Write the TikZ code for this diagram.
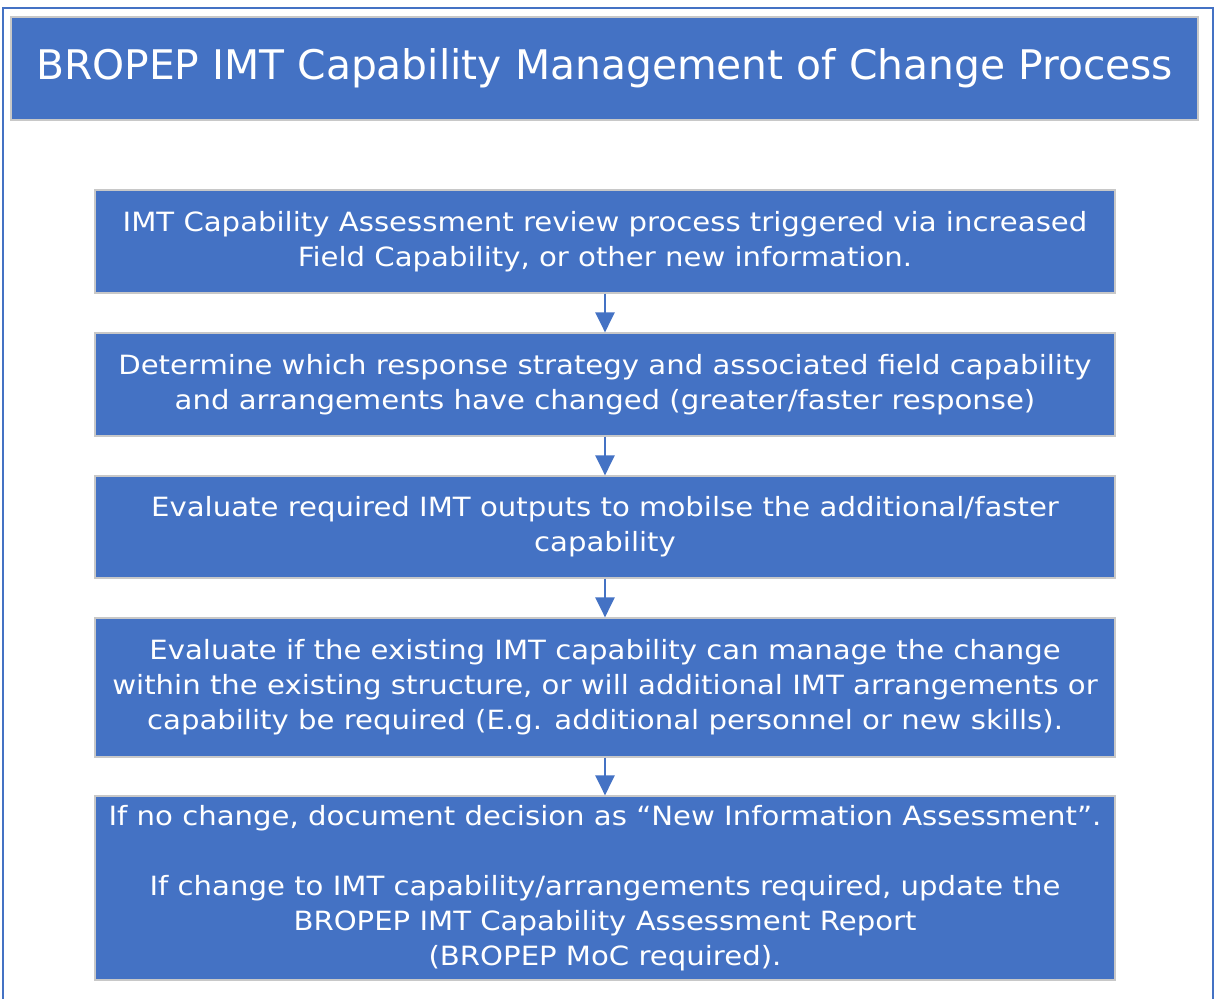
\documentclass[tikz,border=0pt]{standalone}
\usepackage{fontspec}
\setmainfont{DejaVu Sans}
\newfontfamily\bodyfont{DejaVu Sans}[FakeStretch=1.1]
\usetikzlibrary{arrows.meta}
\definecolor{imtblue}{HTML}{4472C4}
\definecolor{boxedge}{HTML}{C8C8C8}
\begin{document}
\begin{tikzpicture}[x=0.5pt, y=-0.5pt,
    stepbox/.style={fill=imtblue, draw=boxedge, line width=0.6pt, text=white,
        align=center, minimum width=510pt, inner sep=0pt,
        font=\bodyfont\fontsize{13.25}{17.5}\selectfont},
    flowarrow/.style={imtblue, line width=1.3pt, -{Triangle[width=9.5pt,length=10pt]}}]
    \useasboundingbox (0,0) rectangle (1215,999);

    % Outer frame (open at the bottom)
    \draw[imtblue, line width=0.8pt] (3,1010) -- (3,8) -- (1213,8) -- (1213,1010);

    % Title bar
    \node[fill=imtblue, draw=boxedge, line width=0.6pt, text=white, inner sep=0pt,
          minimum width=593.5pt, minimum height=51.5pt,
          font=\fontsize{20.4}{24}\selectfont] (title) at (604.5,68.5)
          {BROPEP IMT Capability Management of Change Process};

    % Process steps
    \node[stepbox, minimum height=51.5pt] (trigger) at (605,241.5)
        {IMT Capability Assessment review process triggered via increased\\
         Field Capability, or other new information.};
    \node[stepbox, minimum height=51.5pt] (strategy) at (605,384.5)
        {Determine which response strategy and associated field capability\\
         and arrangements have changed (greater/faster response)};
    \node[stepbox, minimum height=51pt] (outputs) at (605,527)
        {Evaluate required IMT outputs to mobilse the additional/faster\\
         capability};
    \node[stepbox, minimum height=69.5pt] (existing) at (605,687.5)
        {Evaluate if the existing IMT capability can manage the change\\
         within the existing structure, or will additional IMT arrangements or\\
         capability be required (E.g. additional personnel or new skills).};
    \node[stepbox, minimum height=92pt] (decision) at (605,888)
        {If no change, document decision as “New Information Assessment”.\\[\baselineskip]
         If change to IMT capability/arrangements required, update the\\
         BROPEP IMT Capability Assessment Report\\
         (BROPEP MoC required).};

    % Connectors
    \draw[flowarrow] (trigger) -- (strategy);
    \draw[flowarrow] (strategy) -- (outputs);
    \draw[flowarrow] (outputs) -- (existing);
    \draw[flowarrow] (existing) -- (decision);
\end{tikzpicture}
\end{document}
